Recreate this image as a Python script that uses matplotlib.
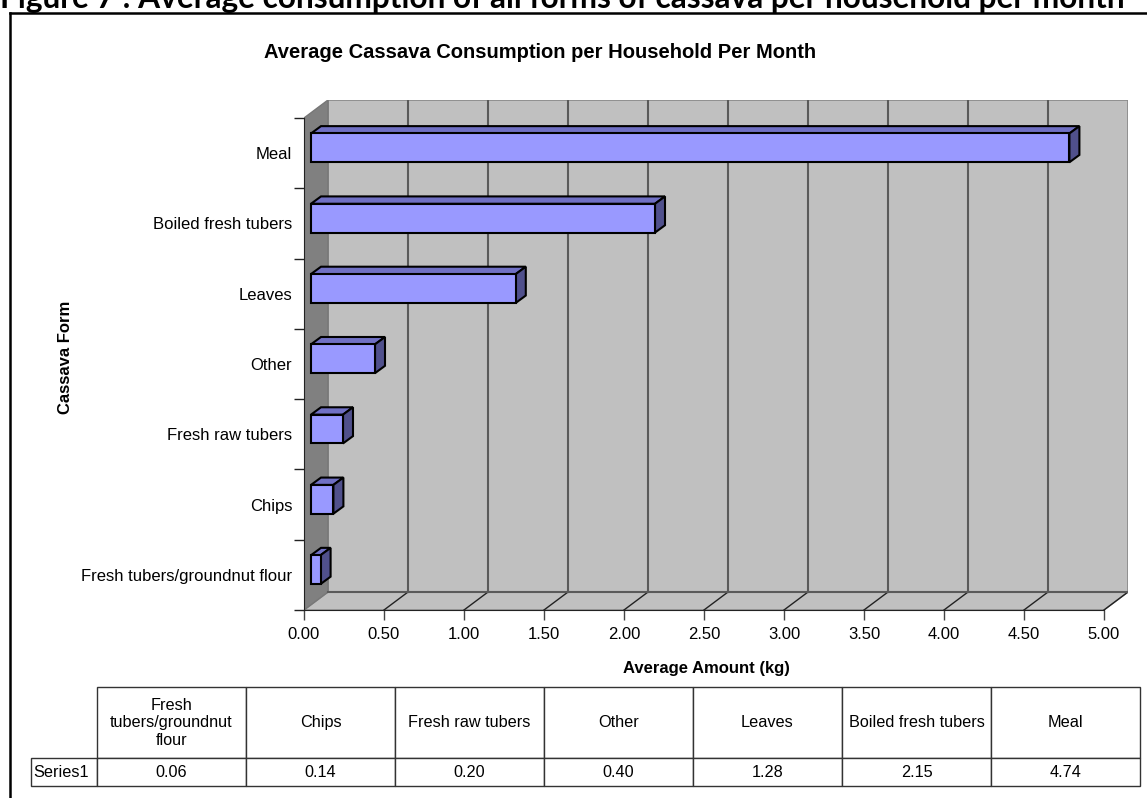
import textwrap
import numpy as np
import matplotlib
matplotlib.use("Agg")
import matplotlib.pyplot as plt
from matplotlib.patches import Polygon
from matplotlib.lines import Line2D
from matplotlib.ticker import FormatStrFormatter

plt.rcParams['font.family'] = ['Liberation Sans', 'DejaVu Sans']

# data (bottom to top, same order as the data table)
categories = ['Fresh tubers/groundnut flour', 'Chips', 'Fresh raw tubers', 'Other',
              'Leaves', 'Boiled fresh tubers', 'Meal']
values = [0.06, 0.14, 0.20, 0.40, 1.28, 2.15, 4.74]
xticks = np.arange(0, 5.01, 0.5)
series_name = 'Series1'

caption = 'Figure 7 : Average consumption of all forms of cassava per household per month'
title = 'Average Cassava Consumption per Household Per Month'
xlabel = 'Average Amount (kg)'
ylabel = 'Cassava Form'

W, H = 1147, 798
fig = plt.figure(figsize=(W / 100, H / 100), dpi=100)

def fx(px):
    return px / W

def fy(py):
    return 1 - py / H

# page frame + caption that is cut off at the top
fig.add_artist(Line2D([fx(9.5), fx(9.5)], [0, fy(13)], transform=fig.transFigure, color='black', lw=1.8))
fig.add_artist(Line2D([fx(9.5), 1], [fy(13), fy(13)], transform=fig.transFigure, color='black', lw=1.8))
cap = fig.text(0, fy(8), caption, fontsize=18, fontweight='bold', family=['Lato', 'DejaVu Sans'],
               ha='left', va='baseline')
fig.canvas.draw()
bb = cap.get_window_extent()
cap.set_fontsize(18 * 1130 / bb.width)

# 3d look: depth offset in data units
DX, DY = 0.15, 0.256
ncat = len(categories)
xmax = xticks[-1]

ax = fig.add_axes([fx(304), fy(610), fx(1128) - fx(304), fy(100) - fy(610)])
ax.set_xlim(0, xmax + DX)
ax.set_ylim(0, ncat + DY)
ax.patch.set_visible(False)

wall = '#c0c0c0'
side = '#808080'
grid = '#5a5a5a'
# floor, back wall, side wall
ax.add_patch(Polygon([(0, 0), (xmax, 0), (xmax + DX, DY), (DX, DY)], closed=True,
                     facecolor=wall, edgecolor='#888888', lw=1, zorder=0.5))
ax.add_patch(Polygon([(DX, DY), (xmax + DX, DY), (xmax + DX, ncat + DY), (DX, ncat + DY)], closed=True,
                     facecolor=wall, edgecolor='#888888', lw=1.2, zorder=0.5))
ax.add_patch(Polygon([(0, 0), (DX, DY), (DX, ncat + DY), (0, ncat)], closed=True,
                     facecolor=side, edgecolor='#777777', lw=1, zorder=0.6))
for t in xticks:
    if 0 < t < xmax:
        ax.plot([t + DX, t + DX], [DY, ncat + DY], color=grid, lw=1.5, zorder=0.8)
    if t > 0:
        ax.plot([t, t + DX], [0, DY], color='#222222', lw=1, zorder=0.8)
ax.plot([DX, xmax + DX], [DY, DY], color=grid, lw=1.5, zorder=0.8)

# bars
bh = 0.41
fs, fe = 7 / 24, 17 / 24
ox, oy = fs * DX, fs * DY
bx, by = (fe - fs) * DX, (fe - fs) * DY * 0.98
front_c, top_c, side_c = '#9999ff', '#7070c4', '#50508c'
for i, v in enumerate(values):
    y0 = i + 0.5 - bh / 2 + oy
    y1 = y0 + bh
    x0 = ox
    x1 = ox + v
    ax.add_patch(Polygon([(x0, y1), (x1, y1), (x1 + bx, y1 + by), (x0 + bx, y1 + by)], closed=True,
                         facecolor=top_c, edgecolor='black', lw=1.5, zorder=3))
    ax.add_patch(Polygon([(x1, y0), (x1 + bx, y0 + by), (x1 + bx, y1 + by), (x1, y1)], closed=True,
                         facecolor=side_c, edgecolor='black', lw=1.5, zorder=3))
    ax.add_patch(Polygon([(x0, y0), (x1, y0), (x1, y1), (x0, y1)], closed=True,
                         facecolor=front_c, edgecolor='black', lw=1.5, zorder=3))

for s in ['top', 'right']:
    ax.spines[s].set_visible(False)
ax.spines['left'].set_bounds(0, ncat)
ax.spines['bottom'].set_bounds(0, xmax)
ax.spines['left'].set_color('#222222')
ax.spines['bottom'].set_color('#222222')

ax.set_xticks(xticks)
ax.xaxis.set_major_formatter(FormatStrFormatter('%.2f'))
ax.tick_params(axis='x', direction='out', length=7, width=1, color='#444444', labelsize=12, pad=5)
ax.set_yticks(np.arange(0, ncat + 1))
ax.set_yticklabels([])
ax.set_yticks(np.arange(ncat) + 0.5, minor=True)
ax.set_yticklabels(categories, minor=True)
ax.tick_params(axis='y', which='major', direction='out', length=7.2, width=1, color='#222222')
ax.tick_params(axis='y', which='minor', length=0, labelsize=12, pad=8.5)

fig.text(fx(540), fy(52), title, fontsize=14.5, fontweight='bold', ha='center', va='center')
fig.text(fx(706), fy(668), xlabel, fontsize=12, fontweight='bold', ha='center', va='center')
fig.text(fx(65), fy(357), ylabel, fontsize=12, fontweight='bold', ha='center', va='center', rotation=90)

# data table under the chart (first column holds the series name)
headers = [textwrap.fill(c, 16) if len(c) > 20 else c for c in categories]
ax_t = fig.add_axes([fx(31), fy(786), fx(1140) - fx(31), fy(687) - fy(786)])
ax_t.axis('off')
tbl = ax_t.table(cellText=[[series_name] + ['%.2f' % v for v in values]],
                 colLabels=[''] + headers, colWidths=[66] + [149] * ncat,
                 cellLoc='center', bbox=[0, 0, 1, 1])
tbl.auto_set_font_size(False)
tbl.set_fontsize(11.7)
for (r, c), cell in tbl.get_celld().items():
    cell.set_edgecolor('#333333')
    cell.set_linewidth(1)
    cell.set_height(72 if r == 0 else 28)
    if c == 0:
        if r == 0:
            cell.visible_edges = 'open'
        else:
            cell.PAD = 0.03
            cell.get_text().set_horizontalalignment('left')

fig.savefig('out.png', dpi=100)
